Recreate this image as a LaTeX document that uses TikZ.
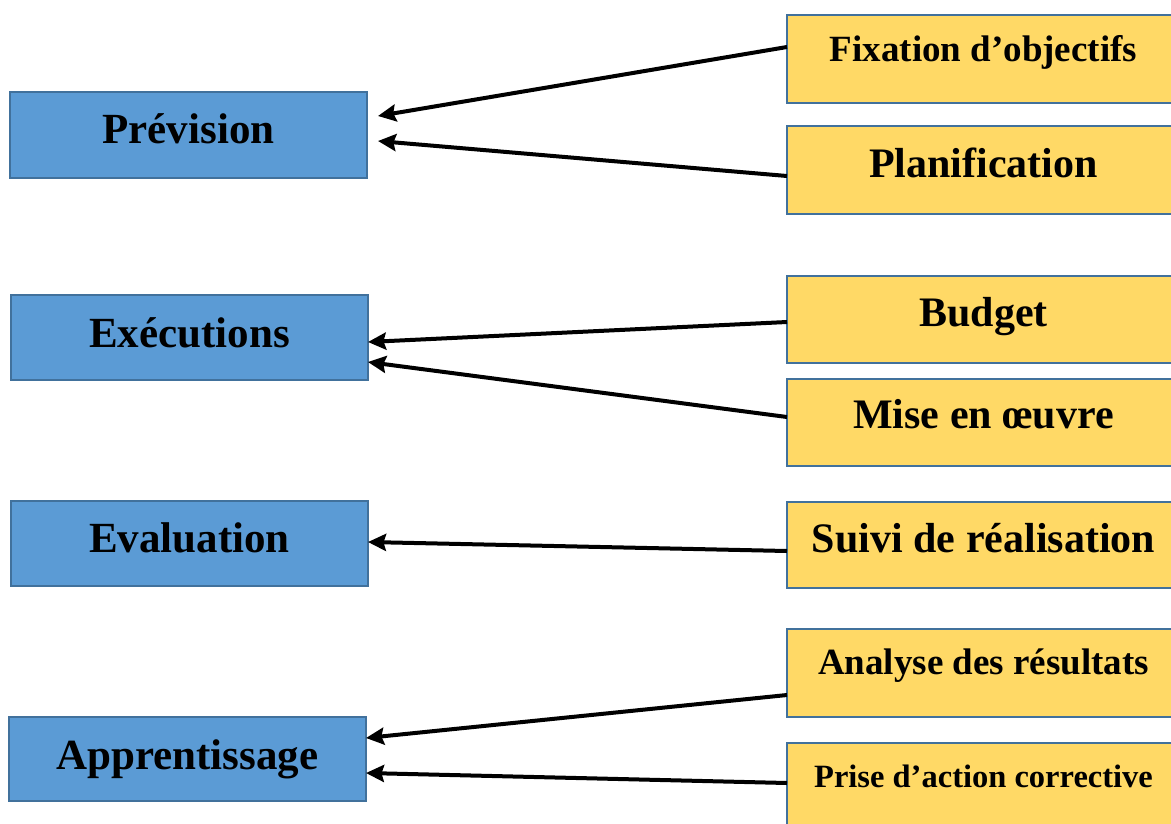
\documentclass[tikz,border=0pt]{standalone}
\usepackage{fontspec}
\setmainfont{Liberation Serif}
\usetikzlibrary{arrows.meta}
\definecolor{stageblue}{HTML}{5B9BD5}
\definecolor{edgeblue}{HTML}{41719C}
\definecolor{taskgold}{HTML}{FFD966}
\begin{document}
\begin{tikzpicture}[x=1pt,y=-1pt,
  box/.style={draw=edgeblue, line width=2.2pt, anchor=north west,
    inner xsep=0pt, inner ysep=0pt, outer sep=0pt, align=center},
  stage/.style={box, fill=stageblue, minimum width=357pt,
    font=\bfseries\fontsize{43}{50}\selectfont},
  task/.style={box, fill=taskgold, minimum width=393pt,
    font=\bfseries\fontsize{42}{50}\selectfont},
  smalltask/.style={task, font=\bfseries\fontsize{37}{42}\selectfont},
  tinytask/.style={task, font=\bfseries\fontsize{32.5}{40}\selectfont},
  link/.style={line width=4pt, -{Stealth[length=18pt,width=17pt,inset=2.5pt]}}]

\useasboundingbox (0,0) rectangle (1171,823);
\clip (0,0) rectangle (1171,823);

% stages of the management cycle
\node[stage, text height=51pt, text depth=35pt] (prev) at (10,92) {Prévision};
\node[stage, text height=52pt, text depth=33pt] (exec) at (11,295) {Exécutions};
\node[stage, text height=51pt, text depth=34pt] (eval) at (11,501) {Evaluation};
\node[stage, text height=52pt, text depth=32pt] (appr) at (9,717) {Apprentissage};

% tasks feeding each stage
\node[smalltask, text height=46pt, text depth=42pt] (fix) at (787,15) {Fixation d’objectifs};
\node[task, text height=51pt, text depth=37pt] (plan) at (787,126) {Planification};
\node[task, text height=50pt, text depth=37pt] (budg) at (787,276) {Budget};
\node[task, text height=49pt, text depth=38pt] (mise) at (787,379) {Mise en œuvre};
\node[task, text height=50pt, text depth=36pt] (suivi) at (787,502) {Suivi de réalisation};
\node[smalltask, text height=45pt, text depth=43pt] (anal) at (787,629) {Analyse des résultats};
\node[tinytask, text height=44pt, text depth=44pt] (prise) at (787,743) {Prise d’action corrective};

% connectors
\draw[link] ([yshift=12pt]fix.west) -- ([xshift=11pt,yshift=19pt]prev.east);
\draw[link] ([yshift=-6pt]plan.west) -- ([xshift=11pt,yshift=-6pt]prev.east);
\draw[link] ([yshift=-2.5pt]budg.west) -- ([yshift=-4.5pt]exec.east);
\draw[link] ([yshift=5.5pt]mise.west) -- ([yshift=-24.5pt]exec.east);
\draw[link] ([yshift=-6pt]suivi.west) -- ([yshift=1.5pt]eval.east);
\draw[link] ([yshift=-22pt]anal.west) -- ([yshift=21pt]appr.east);
\draw[link] ([yshift=4pt]prise.west) -- ([yshift=-14pt]appr.east);
\end{tikzpicture}
\end{document}
